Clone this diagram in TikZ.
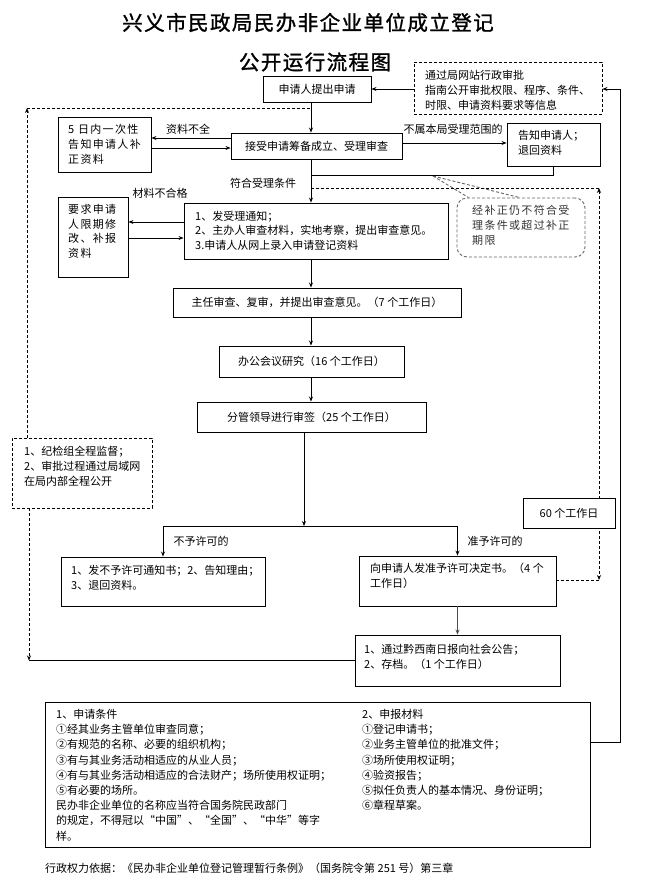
\documentclass[tikz,border=0pt]{standalone}
\usepackage{fontspec}
\setmainfont{Noto Sans CJK SC}
\newfontfamily\spacedcjk[LetterSpace=12]{Noto Sans CJK SC}
\newfontfamily\titlecjk[LetterSpace=7,FakeBold=1.3]{Noto Sans CJK SC}
\usetikzlibrary{arrows.meta}
\begin{document}
\begin{tikzpicture}[x=1pt,y=-1pt,
  box/.style={draw, line width=0.9pt, fill=white, inner sep=0pt, font=\fontsize{11}{15}\selectfont},
  dbox/.style={draw, dash pattern=on 3pt off 2pt, line width=0.9pt, fill=white, inner sep=0pt},
  txt/.style={inner sep=0pt, font=\fontsize{11}{15.2}\selectfont, align=left, anchor=north west},
  lbl/.style={inner sep=0pt, font=\fontsize{11}{15}\selectfont},
  ttl/.style={inner sep=0pt, font=\fontsize{20.5}{24}\titlecjk},
  ln/.style={line width=0.9pt},
  arr/.style={line width=0.9pt, -{Stealth[length=5pt,width=4pt]}},
  dln/.style={line width=0.9pt, dash pattern=on 3pt off 2pt},
  tip/.style={-{Stealth[length=5pt,width=4pt]}},
  dtip/.style={{Stealth[length=5pt,width=4pt]}-{Stealth[length=5pt,width=4pt]}}
]
\useasboundingbox (0,0) rectangle (647,895);
\fill[white] (0,0) rectangle (647,895);

% titles
\node[ttl] (t1) at (308,22.5) {兴义市民政局民办非企业单位成立登记};
\node[ttl] (t2) at (315,62) {公开运行流程图};

% helper coordinates
\coordinate (mx) at (311,0);
\coordinate (tl) at (27,108);
\coordinate (lx2) at (29,0);
\coordinate (yA) at (0,175);
\coordinate (yB) at (599,188);
\coordinate (yC) at (599,580);
\coordinate (bx) at (304,526);
\coordinate (br) at (620,742);

% boxes
\node[box, minimum width=108pt, minimum height=26pt] (apply) at (317,89) {申请人提出申请};
\node[dbox, minimum width=188pt, minimum height=52pt] (info) at (508,88) {};
\node[txt] (info-t) at (425,70) {通过局网站行政审批\\指南公开审批权限、程序、条件、\\时限、申请资料要求等信息};

\node[box, minimum width=93pt, minimum height=55pt] (fivedays) at (104.5,144.5) {};
\node[txt, font=\fontsize{11}{15}\spacedcjk] (fivedays-t) at (68,124) {5 日内一次性\\告知申请人补\\正资料};

\node[box, minimum width=171pt, minimum height=26pt] (accept) at (316.5,146) {接受申请筹备成立、受理审查};

\node[box, minimum width=93pt, minimum height=43pt] (notify) at (553.5,144.5) {};
\node[txt] (notify-t) at (518,130) {告知申请人；\\退回资料};

\node[box, minimum width=70pt, minimum height=80pt] (require) at (93,237) {};
\node[txt, font=\fontsize{11}{14.7}\spacedcjk] (require-t) at (68,204) {要求申请\\人限期修\\改、补报\\资料};

\node[box, minimum width=264pt, minimum height=56pt] (accepted) at (316,231) {};
\node[txt, font=\fontsize{11}{14.5}\selectfont] (accepted-t) at (195,211) {1、发受理通知；\\2、主办人审查材料，实地考察，提出审查意见。\\3.申请人从网上录入申请登记资料};

\node[box, minimum width=288pt, minimum height=29pt] (director) at (317,302.5) {主任审查、复审，并提出审查意见。（7 个工作日）};
\node[box, minimum width=185pt, minimum height=31pt] (meeting) at (311.5,361.5) {办公会议研究（16 个工作日）};
\node[box, minimum width=229pt, minimum height=30pt] (leader) at (311.5,417) {分管领导进行审签（25 个工作日）};

\node[dbox, minimum width=140pt, minimum height=70pt] (supervise) at (82,473) {};
\node[txt] (supervise-t) at (24,446) {1、纪检组全程监督；\\2、审批过程通过局域网\\在局内部全程公开};

\node[box, minimum width=204pt, minimum height=49pt] (deny) at (163,581.5) {};
\node[txt] (deny-t) at (71,565) {1、发不予许可通知书；2、告知理由；\\3、退回资料。};

\node[box, minimum width=197pt, minimum height=50pt] (approve) at (457.5,581) {};
\node[txt] (approve-t) at (370,563) {向申请人发准予许可决定书。（4 个\\工作日）};

\node[box, minimum width=205pt, minimum height=51pt] (announce) at (457.5,660.5) {};
\node[txt] (announce-t) at (364,644) {1、通过黔西南日报向社会公告；\\2、存档。（1 个工作日）};

\node[box, minimum width=545pt, minimum height=145pt] (bottom) at (317.5,774.5) {};
\node[txt] (bottom-l) at (56,709) {1、申请条件\\①经其业务主管单位审查同意；\\②有规范的名称、必要的组织机构；\\③有与其业务活动相适应的从业人员；\\④有与其业务活动相适应的合法财产；场所使用权证明；\\⑤有必要的场所。\\民办非企业单位的名称应当符合国务院民政部门\\的规定，不得冠以“中国”、“全国”、“中华”等字\\样。};
\node[txt] (bottom-r) at (362,709) {2、申报材料\\①登记申请书；\\②业务主管单位的批准文件；\\③场所使用权证明；\\④验资报告；\\⑤拟任负责人的基本情况、身份证明；\\⑥章程草案。};

\node[lbl, anchor=west] (footer) at (45,868) {行政权力依据：《民办非企业单位登记管理暂行条例》（国务院令第 251 号）第三章};

% callout
\node[draw=black!60, dash pattern=on 3pt off 2pt, line width=0.9pt, rounded corners=10pt, fill=white, minimum width=128pt, minimum height=59pt, inner sep=0pt] (cal) at (521,227.5) {};
\node[txt, font=\fontsize{11}{15}\spacedcjk, text=black!80] (cal-t) at (472,205) {经补正仍不符合受\\理条件或超过补正\\期限};
\coordinate (calp) at (433,176);
\draw[dln, black!60] (calp) -- ([xshift=12pt]cal.north west);
\draw[dln, black!60] (calp) -- ([xshift=63pt]cal.north west);

% labels
\node[lbl] (l-zl) at (188,129) {资料不全};
\node[lbl] (l-bs) at (453,129) {不属本局受理范围的};
\node[lbl] (l-fh) at (263,183) {符合受理条件};
\node[lbl] (l-cl) at (160,193) {材料不合格};
\node[lbl] (l-by) at (201,541) {不予许可的};
\node[lbl] (l-zy) at (495,541) {准予许可的};

% main flow
\draw[arr] (apply.south -| mx) -- (accept.north -| mx);
\draw[arr] (accept.south -| mx) -- (accepted.north -| mx);
\draw[arr] (accepted.south -| mx) -- (director.north -| mx);
\draw[arr] (director.south -| mx) -- (meeting.north -| mx);
\draw[arr] (meeting.south -| mx) -- (leader.north -| mx);
\draw[arr] (leader.south -| bx) -- (bx);
\draw[ln] (deny.north |- bx) -- (approve.north |- bx);
\draw[arr] (deny.north |- bx) -- (deny.north);
\draw[arr] (approve.north |- bx) -- (approve.north);
\draw[arr, black!70] (approve.south) -- (announce.north);

% side flows
\draw[arr] ([yshift=8pt]accept.west) -- ([yshift=8pt]accept.west -| fivedays.east);
\draw[arr] ([yshift=-2pt]accept.west -| fivedays.east) -- ([yshift=-2pt]accept.west);
\draw[arr] ([yshift=9pt]accepted.west) -- ([yshift=9pt]accepted.west -| require.east);
\draw[arr] ([yshift=-7pt]accepted.west -| require.east) -- ([yshift=-7pt]accepted.west);
\draw[arr] ([yshift=3pt]accept.east) -- ([yshift=3pt]accept.east -| notify.west);
\draw[ln] (notify.south) -- (notify.south |- yA) -- (mx |- yA);
\draw[arr] (info.west |- apply.east) -- (apply.east);
\draw[arr] (br -| bottom.east) -- (br) -- (br |- apply.east) -- (info.east |- apply.east);

% dashed supervision loop
\draw[dln] (tl) -- (tl -| mx);
\draw[dln, tip] (supervise.north -| tl) -- (tl);
\draw[ln] (announce.west) -- (announce.west -| lx2);
\draw[dln, tip] (supervise.south -| lx2) -- (announce.west -| lx2);

% dashed 60-day loop
\draw[dln] (mx |- yB) -- (yB);
\draw[dln, dtip] (yB) -- (yC);
\draw[dln] (approve.east |- yC) -- (yC);
\node[box, minimum width=92pt, minimum height=30pt] (days60) at (569,513) {60 个工作日};

\end{tikzpicture}
\end{document}
